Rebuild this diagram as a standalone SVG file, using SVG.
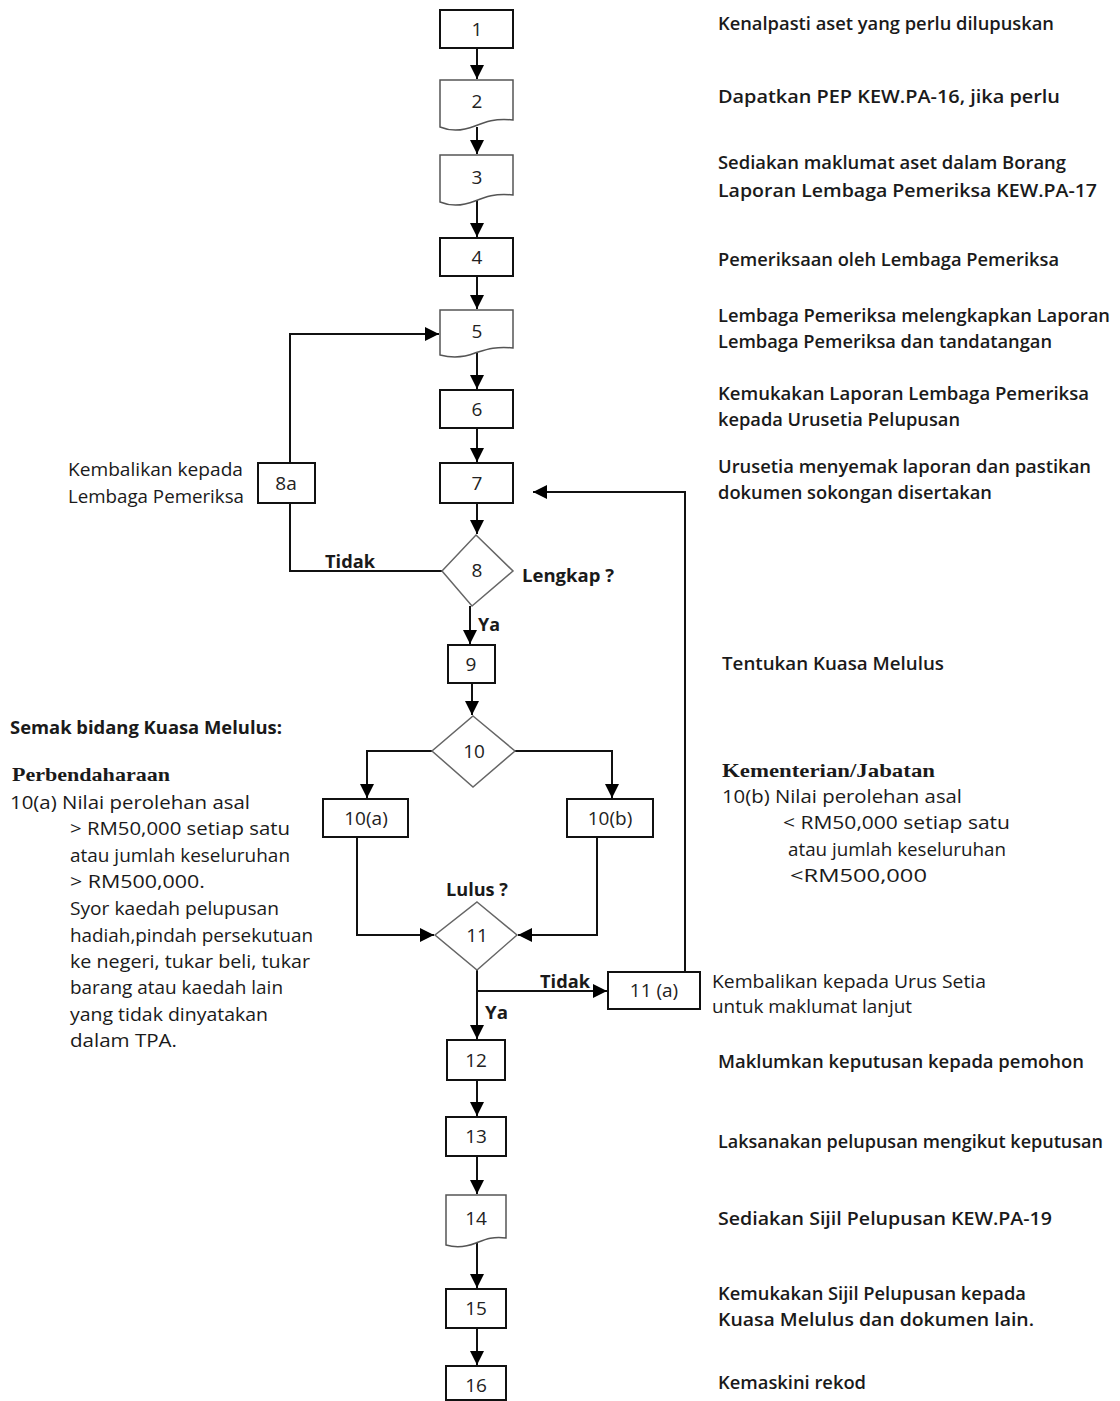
<svg xmlns="http://www.w3.org/2000/svg" width="1120" height="1401" viewBox="0 0 1120 1401">
<style>
.box{fill:#fff;stroke:#111;stroke-width:2}
.doc{fill:#fff;stroke:#555;stroke-width:1.5}
.dia{fill:#fff;stroke:#666;stroke-width:1.5}
.ln{fill:none;stroke:#111;stroke-width:2}
.lbl{font-family:"Open Sans","DejaVu Sans",sans-serif;font-size:19px;fill:#222;text-anchor:middle}
.desc{font-family:"Open Sans","DejaVu Sans",sans-serif;font-size:18px;font-weight:600;fill:#1a1a1a}
.note{font-family:"Open Sans","DejaVu Sans",sans-serif;font-size:18px;fill:#1a1a1a}
.hd{font-family:"Liberation Serif","Times New Roman",serif;font-size:19px;font-weight:bold;fill:#1a1a1a}
.bl{font-family:"Open Sans","DejaVu Sans",sans-serif;font-size:18px;font-weight:700;fill:#1a1a1a}
</style>
<defs>
<marker id="ah" markerWidth="14" markerHeight="14" viewBox="0 0 14 14" refX="14" refY="7" orient="auto" markerUnits="userSpaceOnUse">
<path d="M0,0 L14,7 L0,14 Z" fill="#000"/>
</marker>
</defs>
<rect width="1120" height="1401" fill="#fff"/>

<g id="connectors">
<line class="ln" x1="477" y1="48" x2="477" y2="79" marker-end="url(#ah)"/>
<line class="ln" x1="477" y1="127" x2="477" y2="154" marker-end="url(#ah)"/>
<line class="ln" x1="477" y1="200" x2="477" y2="237" marker-end="url(#ah)"/>
<line class="ln" x1="477" y1="276" x2="477" y2="309" marker-end="url(#ah)"/>
<line class="ln" x1="477" y1="353" x2="477" y2="389" marker-end="url(#ah)"/>
<line class="ln" x1="477" y1="428" x2="477" y2="462" marker-end="url(#ah)"/>
<line class="ln" x1="477" y1="503" x2="477" y2="534" marker-end="url(#ah)"/>
<polyline class="ln" points="442,571 290,571 290,503"/>
<polyline class="ln" points="290,463 290,334 439,334" marker-end="url(#ah)"/>
<line class="ln" x1="470" y1="606" x2="470" y2="644" marker-end="url(#ah)"/>
<line class="ln" x1="472" y1="683" x2="472" y2="715" marker-end="url(#ah)"/>
<polyline class="ln" points="432,751 367,751 367,798" marker-end="url(#ah)"/>
<polyline class="ln" points="515,751 612,751 612,798" marker-end="url(#ah)"/>
<polyline class="ln" points="357,837 357,935 434,935" marker-end="url(#ah)"/>
<polyline class="ln" points="597,837 597,935 518,935" marker-end="url(#ah)"/>
<line class="ln" x1="477" y1="970" x2="477" y2="1039" marker-end="url(#ah)"/>
<line class="ln" x1="477" y1="991" x2="607" y2="991" marker-end="url(#ah)"/>
<polyline class="ln" points="685,972 685,492 533,492" marker-end="url(#ah)"/>
<line class="ln" x1="477" y1="1080" x2="477" y2="1116" marker-end="url(#ah)"/>
<line class="ln" x1="477" y1="1156" x2="477" y2="1194" marker-end="url(#ah)"/>
<line class="ln" x1="477" y1="1243" x2="477" y2="1288" marker-end="url(#ah)"/>
<line class="ln" x1="477" y1="1328" x2="477" y2="1365" marker-end="url(#ah)"/>
</g>

<g id="n1"><rect class="box" x="440" y="10" width="73" height="38"/><text class="lbl" x="477" y="36">1</text></g>
<g id="n2"><path class="doc" d="M440,80 H513 V120 C495,118 485,122 475,126 C465,130 452,132 440,127 Z"/><text class="lbl" x="477" y="108">2</text></g>
<g id="n3"><path class="doc" d="M440,155 H513 V195 C495,193 485,197 475,201 C465,205 452,207 440,202 Z"/><text class="lbl" x="477" y="184">3</text></g>
<g id="n4"><rect class="box" x="440" y="238" width="73" height="38"/><text class="lbl" x="477" y="264">4</text></g>
<g id="n5"><path class="doc" d="M440,310 H513 V348 C495,346 485,350 475,353 C465,357 452,358 440,355 Z"/><text class="lbl" x="477" y="338">5</text></g>
<g id="n6"><rect class="box" x="440" y="390" width="73" height="38"/><text class="lbl" x="477" y="416">6</text></g>
<g id="n7"><rect class="box" x="440" y="463" width="73" height="40"/><text class="lbl" x="477" y="490">7</text></g>
<g id="n8"><polygon class="dia" points="476,535 513,571 472,606 442,571"/><text class="lbl" x="477" y="577">8</text></g>
<g id="n8a"><rect class="box" x="258" y="463" width="57" height="40"/><text class="lbl" x="286" y="490">8a</text></g>
<g id="n9"><rect class="box" x="448" y="645" width="47" height="38"/><text class="lbl" x="471" y="671">9</text></g>
<g id="n10"><polygon class="dia" points="473,716 515,751 473,787 432,751"/><text class="lbl" x="474" y="758">10</text></g>
<g id="n10a"><rect class="box" x="323" y="799" width="85" height="38"/><text class="lbl" x="366" y="825">10(a)</text></g>
<g id="n10b"><rect class="box" x="567" y="799" width="86" height="38"/><text class="lbl" x="610" y="825">10(b)</text></g>
<g id="n11"><polygon class="dia" points="477,902 517,935 477,970 435,935"/><text class="lbl" x="477" y="942">11</text></g>
<g id="n11a"><rect class="box" x="608" y="972" width="92" height="37"/><text class="lbl" x="654" y="997">11 (a)</text></g>
<g id="n12"><rect class="box" x="447" y="1040" width="58" height="40"/><text class="lbl" x="476" y="1067">12</text></g>
<g id="n13"><rect class="box" x="446" y="1117" width="60" height="39"/><text class="lbl" x="476" y="1143">13</text></g>
<g id="n14"><path class="doc" d="M446,1195 H506 V1238 C492,1236 484,1240 476,1243 C466,1247 456,1248 446,1245 Z"/><text class="lbl" x="476" y="1225">14</text></g>
<g id="n15"><rect class="box" x="446" y="1289" width="60" height="39"/><text class="lbl" x="476" y="1315">15</text></g>
<g id="n16"><rect class="box" x="446" y="1366" width="60" height="34"/><text class="lbl" x="476" y="1392">16</text></g>

<g id="edge-labels">
<text class="bl" x="325" y="568" textLength="50" lengthAdjust="spacingAndGlyphs">Tidak</text>
<text class="bl" x="522" y="582" textLength="92" lengthAdjust="spacingAndGlyphs">Lengkap ?</text>
<text class="bl" x="478" y="631" textLength="22" lengthAdjust="spacingAndGlyphs">Ya</text>
<text class="bl" x="446" y="896" textLength="62" lengthAdjust="spacingAndGlyphs">Lulus ?</text>
<text class="bl" x="540" y="988" textLength="50" lengthAdjust="spacingAndGlyphs">Tidak</text>
<text class="bl" x="485" y="1019" textLength="23" lengthAdjust="spacingAndGlyphs">Ya</text>
</g>

<g id="descriptions">
<text class="desc" x="718" y="30" textLength="336" lengthAdjust="spacingAndGlyphs">Kenalpasti aset yang perlu dilupuskan</text>
<text class="desc" x="718" y="103" textLength="342" lengthAdjust="spacingAndGlyphs">Dapatkan PEP KEW.PA-16, jika perlu</text>
<text class="desc" x="718" y="169" textLength="348" lengthAdjust="spacingAndGlyphs">Sediakan maklumat aset dalam Borang</text>
<text class="desc" x="718" y="197" textLength="379" lengthAdjust="spacingAndGlyphs">Laporan Lembaga Pemeriksa KEW.PA-17</text>
<text class="desc" x="718" y="266" textLength="341" lengthAdjust="spacingAndGlyphs">Pemeriksaan oleh Lembaga Pemeriksa</text>
<text class="desc" x="718" y="322" textLength="392" lengthAdjust="spacingAndGlyphs">Lembaga Pemeriksa melengkapkan Laporan</text>
<text class="desc" x="718" y="348" textLength="334" lengthAdjust="spacingAndGlyphs">Lembaga Pemeriksa dan tandatangan</text>
<text class="desc" x="718" y="400" textLength="371" lengthAdjust="spacingAndGlyphs">Kemukakan Laporan Lembaga Pemeriksa</text>
<text class="desc" x="718" y="426" textLength="242" lengthAdjust="spacingAndGlyphs">kepada Urusetia Pelupusan</text>
<text class="desc" x="718" y="473" textLength="373" lengthAdjust="spacingAndGlyphs">Urusetia menyemak laporan dan pastikan</text>
<text class="desc" x="718" y="499" textLength="274" lengthAdjust="spacingAndGlyphs">dokumen sokongan disertakan</text>
<text class="desc" x="722" y="670" textLength="222" lengthAdjust="spacingAndGlyphs">Tentukan Kuasa Melulus</text>
<text class="hd" x="722" y="777" textLength="213" lengthAdjust="spacingAndGlyphs">Kementerian/Jabatan</text>
<text class="note" x="722" y="803" textLength="240" lengthAdjust="spacingAndGlyphs">10(b) Nilai perolehan asal</text>
<text class="note" x="783" y="829" textLength="227" lengthAdjust="spacingAndGlyphs">&lt; RM50,000 setiap satu</text>
<text class="note" x="788" y="856" textLength="218" lengthAdjust="spacingAndGlyphs">atau jumlah keseluruhan</text>
<text class="note" x="790" y="882" textLength="137" lengthAdjust="spacingAndGlyphs">&lt;RM500,000</text>
<text class="note" x="712" y="988" textLength="274" lengthAdjust="spacingAndGlyphs">Kembalikan kepada Urus Setia</text>
<text class="note" x="712" y="1013" textLength="200" lengthAdjust="spacingAndGlyphs">untuk maklumat lanjut</text>
<text class="desc" x="718" y="1068" textLength="366" lengthAdjust="spacingAndGlyphs">Maklumkan keputusan kepada pemohon</text>
<text class="desc" x="718" y="1148" textLength="385" lengthAdjust="spacingAndGlyphs">Laksanakan pelupusan mengikut keputusan</text>
<text class="desc" x="718" y="1225" textLength="334" lengthAdjust="spacingAndGlyphs">Sediakan Sijil Pelupusan KEW.PA-19</text>
<text class="desc" x="718" y="1300" textLength="308" lengthAdjust="spacingAndGlyphs">Kemukakan Sijil Pelupusan kepada</text>
<text class="desc" x="718" y="1326" textLength="316" lengthAdjust="spacingAndGlyphs">Kuasa Melulus dan dokumen lain.</text>
<text class="desc" x="718" y="1389" textLength="148" lengthAdjust="spacingAndGlyphs">Kemaskini rekod</text>

<text class="note" x="68" y="476" textLength="175" lengthAdjust="spacingAndGlyphs">Kembalikan kepada</text>
<text class="note" x="68" y="503" textLength="176" lengthAdjust="spacingAndGlyphs">Lembaga Pemeriksa</text>

<text class="bl" x="10" y="734" textLength="272" lengthAdjust="spacingAndGlyphs">Semak bidang Kuasa Melulus:</text>
<text class="hd" x="12" y="781" textLength="158" lengthAdjust="spacingAndGlyphs">Perbendaharaan</text>
<text class="note" x="10" y="809" textLength="240" lengthAdjust="spacingAndGlyphs">10(a) Nilai perolehan asal</text>
<text class="note" x="70" y="835" textLength="220" lengthAdjust="spacingAndGlyphs">&gt; RM50,000 setiap satu</text>
<text class="note" x="70" y="862" textLength="220" lengthAdjust="spacingAndGlyphs">atau jumlah keseluruhan</text>
<text class="note" x="70" y="888" textLength="135" lengthAdjust="spacingAndGlyphs">&gt; RM500,000.</text>
<text class="note" x="70" y="915" textLength="209" lengthAdjust="spacingAndGlyphs">Syor kaedah pelupusan</text>
<text class="note" x="70" y="942" textLength="243" lengthAdjust="spacingAndGlyphs">hadiah,pindah persekutuan</text>
<text class="note" x="70" y="968" textLength="240" lengthAdjust="spacingAndGlyphs">ke negeri, tukar beli, tukar</text>
<text class="note" x="70" y="994" textLength="213" lengthAdjust="spacingAndGlyphs">barang atau kaedah lain</text>
<text class="note" x="70" y="1021" textLength="198" lengthAdjust="spacingAndGlyphs">yang tidak dinyatakan</text>
<text class="note" x="70" y="1047" textLength="107" lengthAdjust="spacingAndGlyphs">dalam TPA.</text>
</g>
</svg>
